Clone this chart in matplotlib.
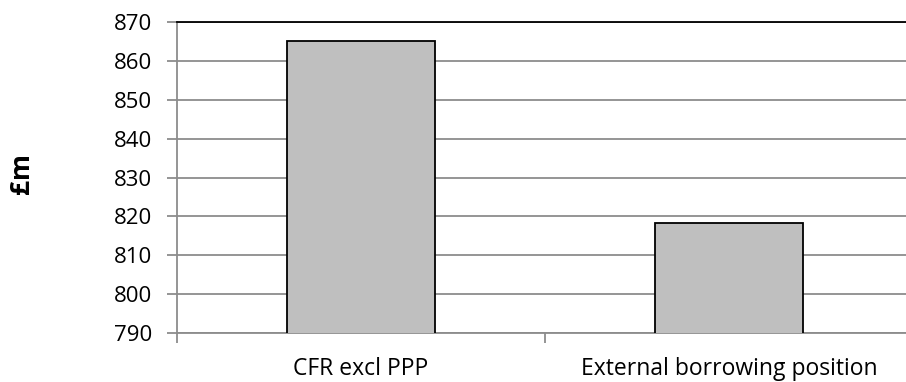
import numpy as np
import matplotlib.pyplot as plt

# data
categories = ['CFR excl PPP', 'External borrowing position']
values = [865.0, 818.3]
y_ticks = [790, 800, 810, 820, 830, 840, 850, 860, 870]

plt.rcParams['font.family'] = ['Open Sans', 'DejaVu Sans']

fig = plt.figure(figsize=(9.06, 3.82), dpi=100)
ax = fig.add_axes([177 / 906, 1 - 333 / 382, (913 - 177) / 906, (333 - 22) / 382])

x = np.arange(len(categories))
ax.bar(x, values, width=0.40, color='#bfbfbf', edgecolor='black', linewidth=1.3, zorder=3)

ax.set_xlim(-0.5, len(categories) - 0.5)
ax.set_ylim(790, 870)
ax.set_yticks(y_ticks)
ax.yaxis.grid(True, color='#8c8c8c', linewidth=1.3, zorder=0)

ax.set_xticks(x)
ax.set_xticklabels(categories)
ax.set_xticks(np.arange(len(categories) + 1) - 0.5, minor=True)
ax.tick_params(axis='x', which='major', length=0, pad=17, labelsize=16.5)
ax.tick_params(axis='x', which='minor', length=7, color='#8c8c8c', width=1.3)
ax.tick_params(axis='y', length=7, color='#8c8c8c', width=1.3, labelsize=16, pad=11)

for side in ['left', 'bottom']:
    ax.spines[side].set_color('#8c8c8c')
    ax.spines[side].set_linewidth(1.3)
ax.spines['top'].set_color('black')
ax.spines['top'].set_linewidth(1.3)
ax.spines['right'].set_visible(False)

fig.text(22 / 906, 1 - 174 / 382, '£m', rotation=90, fontsize=19, fontweight='bold',
         ha='center', va='center')

fig.savefig('out.png', dpi=100)
